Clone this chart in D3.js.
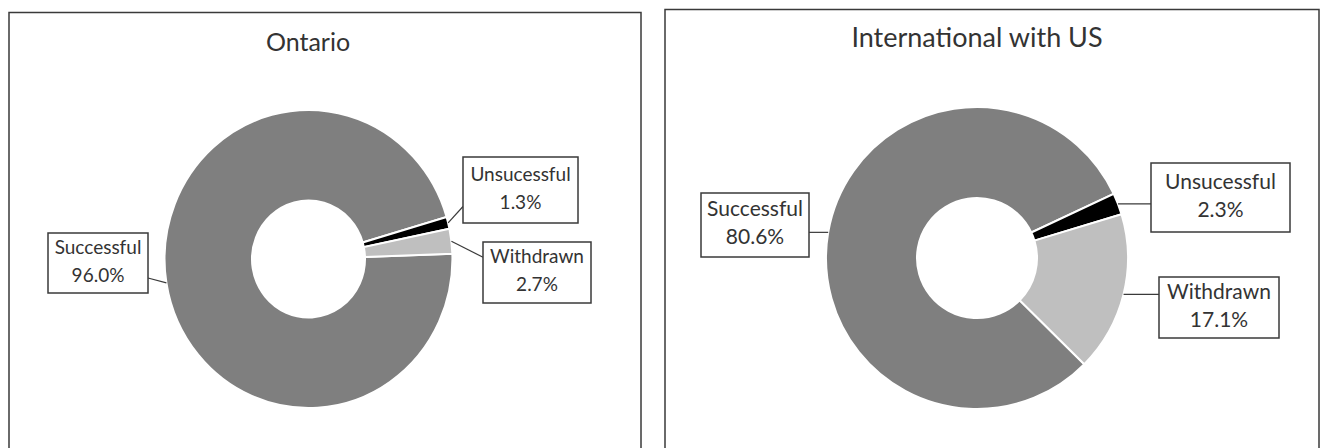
<!DOCTYPE html>
<html>
<head>
<meta charset="utf-8">
<script src="https://cdn.jsdelivr.net/npm/d3@7/dist/d3.min.js"></script>
<style>
  html, body { margin: 0; padding: 0; background: #fff; }
  svg { display: block; }
  text { font-family: Lato, "Noto Sans", sans-serif; fill: #333; }
</style>
</head>
<body>
<svg id="chart" width="1325" height="448"></svg>
<script>
// Application outcomes by region (percent of applications)
const categories = ["Successful", "Unsucessful", "Withdrawn"];
const ontarioValues = [96.0, 1.3, 2.7];
const internationalValues = [80.6, 2.3, 17.1];
const chartTitles = ["Ontario", "International with US"];

const sliceColors = d3.scaleOrdinal()
  .domain(categories)
  .range(["#7f7f7f", "#000000", "#bfbfbf"]);

const svg = d3.select("#chart");

// Layout for each panel: frame, donut geometry and callout boxes
const panels = [
  {
    title: chartTitles[0], values: ontarioValues,
    frame: { x: 9, y: 12.5, w: 632, h: 460 },
    titleX: 308, titleY: 51, titleSize: 25, labelSize: 19,
    cx: 308.5, cy: 259, outer: 149, inner: 58.5, sx: 0.966,
    start: 88,
    boxes: [
      { x: 48, y: 233, w: 100, h: 60 },
      { x: 463, y: 157, w: 115, h: 66 },
      { x: 483, y: 242, w: 108, h: 61 }
    ]
  },
  {
    title: chartTitles[1], values: internationalValues,
    frame: { x: 665, y: 9.5, w: 654, h: 460 },
    titleX: 977, titleY: 47, titleSize: 27, labelSize: 21,
    cx: 977, cy: 258, outer: 151, inner: 60, sx: 1,
    start: 134.7,
    boxes: [
      { x: 701, y: 193, w: 108, h: 64 },
      { x: 1151, y: 163, w: 139, h: 69 },
      { x: 1159, y: 277, w: 120, h: 61 }
    ]
  }
];

panels.forEach(p => {
  const g = svg.append("g");

  g.append("rect")
    .attr("x", p.frame.x).attr("y", p.frame.y)
    .attr("width", p.frame.w).attr("height", p.frame.h)
    .attr("fill", "#fff")
    .attr("stroke", "#3a3a3a").attr("stroke-width", 1.5);

  g.append("text")
    .attr("x", p.titleX).attr("y", p.titleY)
    .attr("text-anchor", "middle")
    .style("font-size", p.titleSize + "px")
    .text(p.title);

  const rows = categories.map((c, i) => ({ category: c, value: p.values[i], box: p.boxes[i] }));

  const startRad = p.start * Math.PI / 180;
  const pie = d3.pie()
    .sort(null)
    .value(d => d.value)
    .startAngle(startRad)
    .endAngle(startRad + 2 * Math.PI);

  const arc = d3.arc().innerRadius(p.inner).outerRadius(p.outer);
  const arcs = pie(rows);

  const donut = g.append("g")
    .attr("transform", `translate(${p.cx},${p.cy}) scale(${p.sx},1)`);

  donut.selectAll("path")
    .data(arcs)
    .join("path")
    .attr("d", arc)
    .attr("fill", d => sliceColors(d.data.category))
    .attr("stroke", "#fff")
    .attr("stroke-width", 2)
    .attr("vector-effect", "non-scaling-stroke");

  // Callouts: leader line from the slice's outer edge to its label box
  arcs.forEach(a => {
    const b = a.data.box;
    const mid = (a.startAngle + a.endAngle) / 2;
    const px = p.cx + p.sx * p.outer * Math.sin(mid);
    const py = p.cy - p.outer * Math.cos(mid);
    const leftSide = b.x > p.cx;
    const bx = leftSide ? b.x : b.x + b.w;
    const by = Math.max(b.y + b.h * 0.25, Math.min(b.y + b.h * 0.75, py));

    g.append("line")
      .attr("x1", px).attr("y1", py)
      .attr("x2", bx).attr("y2", by)
      .attr("stroke", "#3a3a3a").attr("stroke-width", 1.2);

    g.append("rect")
      .attr("x", b.x).attr("y", b.y)
      .attr("width", b.w).attr("height", b.h)
      .attr("fill", "#fff")
      .attr("stroke", "#3a3a3a").attr("stroke-width", 1.5);

    const tx = b.x + b.w / 2;
    const ty = b.y + b.h / 2;
    const t = g.append("text")
      .attr("x", tx)
      .attr("text-anchor", "middle")
      .style("font-size", p.labelSize + "px");
    t.append("tspan").attr("x", tx).attr("y", ty - 14)
      .attr("dominant-baseline", "middle").text(a.data.category);
    t.append("tspan").attr("x", tx).attr("y", ty + 14)
      .attr("dominant-baseline", "middle").text(d3.format(".1f")(a.data.value) + "%");
  });
});
</script>
</body>
</html>
